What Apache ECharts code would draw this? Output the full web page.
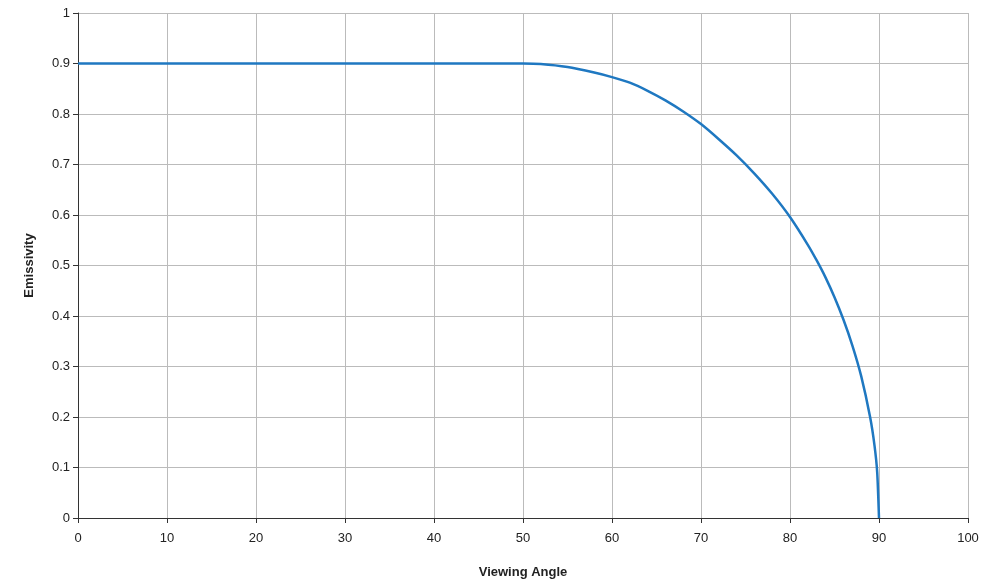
<!DOCTYPE html>
<html>
<head>
<meta charset="utf-8">
<script src="https://cdn.jsdelivr.net/npm/echarts@6/dist/echarts.min.js"></script>
<style>
  html, body { margin: 0; padding: 0; background: #fff; }
  #chart { width: 997px; height: 585px; }
</style>
</head>
<body>
<div id="chart"></div>
<script>
// viewing angle (deg) and emissivity
var angles = [0, 10, 20, 30, 40, 50, 52, 55, 58, 60, 62, 64, 66, 68, 70, 72, 74, 76, 78, 80, 82, 83, 84, 85, 86, 87, 88, 89, 89.5, 89.8, 90];
var emissivity = [0.9, 0.9, 0.9, 0.9, 0.9, 0.9, 0.899, 0.893, 0.882, 0.873, 0.862, 0.846, 0.827, 0.805, 0.78, 0.75, 0.718, 0.682, 0.642, 0.596, 0.541, 0.51, 0.476, 0.437, 0.393, 0.342, 0.281, 0.2, 0.143, 0.09, 0];

var points = angles.map(function (a, i) { return [a, emissivity[i]]; });

var chart = echarts.init(document.getElementById('chart'));
var axisText = { color: '#222', fontFamily: 'Liberation Sans', fontSize: 13 };
var option = {
    animation: false,
    grid: { left: 78, right: 29, top: 13, bottom: 67 },
    xAxis: {
        type: 'value', min: 0, max: 100, interval: 10,
        name: 'Viewing Angle', nameLocation: 'middle', nameGap: 48,
        nameTextStyle: { color: '#222', fontFamily: 'Liberation Sans', fontSize: 13, fontWeight: 'bold' },
        axisLine: { lineStyle: { color: '#333' } },
        axisTick: { show: true, lineStyle: { color: '#333' } },
        axisLabel: Object.assign({ margin: 14 }, axisText),
        splitLine: { lineStyle: { color: '#bbb' } }
    },
    yAxis: {
        type: 'value', min: 0, max: 1, interval: 0.1,
        name: 'Emissivity', nameLocation: 'middle', nameGap: 42,
        nameTextStyle: { color: '#222', fontFamily: 'Liberation Sans', fontSize: 13, fontWeight: 'bold' },
        axisLine: { show: true, lineStyle: { color: '#333' } },
        axisTick: { show: true, lineStyle: { color: '#333' } },
        axisLabel: Object.assign({ formatter: function (v) { return +v.toFixed(1) + ''; } }, axisText),
        splitLine: { lineStyle: { color: '#bbb' } }
    },
    series: [{
        type: 'line',
        data: points,
        smooth: 0.2,
        showSymbol: false,
        lineStyle: { color: '#1f78c1', width: 2.5 }
    }]
};
chart.setOption(option);
</script>
</body>
</html>
